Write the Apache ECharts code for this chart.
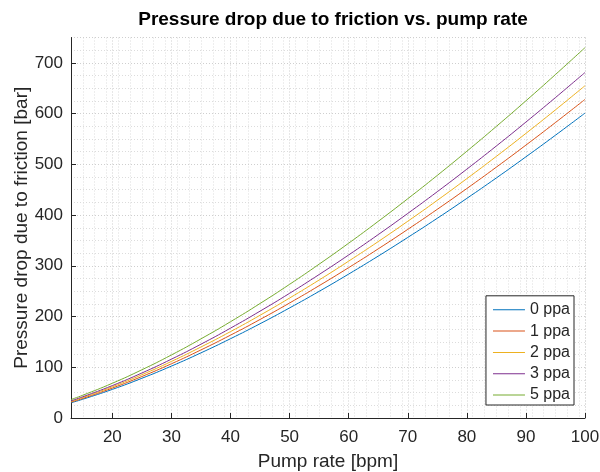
<!DOCTYPE html>
<html>
<head>
<meta charset="utf-8">
<script src="https://cdn.jsdelivr.net/npm/echarts@6/dist/echarts.min.js"></script>
<style>
  html, body { margin: 0; padding: 0; background: #fff; }
  #chart { width: 600px; height: 472px; }
</style>
</head>
<body>
<div id="chart"></div>
<script>
// Pump rate [bpm]
const pumpRate = [13, 15, 20, 25, 30, 35, 40, 45, 50, 55, 60, 65, 70, 75, 80, 85, 90, 95, 100];

// Pressure drop due to friction [bar], one array per proppant concentration
const ppa0 = [30, 37, 56.4, 78.3, 102.3, 128.4, 156.3, 185.8, 217, 249.6, 283.7, 319.1, 355.9, 393.7, 432.9, 473.2, 514.8, 557.4, 601];
const ppa1 = [31.3, 38.6, 59, 81.8, 106.9, 134.2, 163.3, 194.2, 226.7, 260.8, 296.4, 333.4, 371.8, 411.4, 452.3, 494.5, 537.9, 582.4, 628];
const ppa2 = [32.6, 40.3, 61.5, 85.3, 111.5, 140, 170.3, 202.5, 236.5, 272, 309.2, 347.7, 387.8, 429.1, 471.8, 515.7, 561, 607.4, 655];
const ppa3 = [33.9, 41.9, 63.9, 88.7, 116, 145.5, 177.1, 210.6, 245.8, 282.8, 321.4, 361.5, 403.2, 446.1, 490.5, 536.2, 583.3, 631.6, 681];
const ppa5 = [36.4, 44.9, 68.5, 95.1, 124.3, 156, 189.8, 225.7, 263.5, 303.2, 344.6, 387.6, 432.2, 478.2, 525.8, 574.8, 625.2, 677, 730];

const seriesNames = ['0 ppa', '1 ppa', '2 ppa', '3 ppa', '5 ppa'];
const seriesValues = [ppa0, ppa1, ppa2, ppa3, ppa5];
const seriesColors = ['#0072BD', '#D95319', '#EDB120', '#7E2F8E', '#77AC30'];

const textColor = '#262626';
const font = '"Liberation Sans", Arial, Helvetica, sans-serif';

const chart = echarts.init(document.getElementById('chart'), null, { renderer: 'canvas' });

const series = seriesNames.map((name, i) => ({
  name: name,
  type: 'line',
  xAxisIndex: 0,
  yAxisIndex: 0,
  data: pumpRate.map((x, k) => [x, seriesValues[i][k]]),
  symbol: 'none',
  smooth: true,
  lineStyle: { width: 1, color: seriesColors[i] },
  itemStyle: { color: seriesColors[i] },
  z: 5
}));

chart.setOption({
  animation: false,
  backgroundColor: '#ffffff',
  textStyle: { fontFamily: font },
  title: {
    text: 'Pressure drop due to friction vs. pump rate',
    left: 328,
    textAlign: 'center',
    top: 5,
    textStyle: { fontFamily: font, fontSize: 19, fontWeight: 'bold', color: '#000' }
  },
  grid: { left: 71, right: 15, top: 37.5, bottom: 54, containLabel: false, outerBoundsMode: 'none' },
  legend: {
    orient: 'vertical',
    right: 26,
    bottom: 67,
    data: seriesNames,
    icon: 'rect',
    itemWidth: 32,
    itemHeight: 1,
    itemGap: 5.3,
    padding: [6, 4, 2, 7],
    backgroundColor: '#ffffff',
    borderColor: '#262626',
    borderWidth: 1,
    borderRadius: 0,
    textStyle: { fontFamily: font, fontSize: 16, color: textColor, lineHeight: 16 }
  },
  xAxis: [
    {
      type: 'value',
      min: 13,
      max: 100,
      splitNumber: 9,
      name: 'Pump rate [bpm]',
      nameLocation: 'middle',
      nameGap: 34,
      nameMoveOverlap: false,
      nameTextStyle: { fontFamily: font, fontSize: 19, color: textColor },
      axisLine: { show: true, onZero: false, lineStyle: { color: textColor, width: 1 } },
      axisTick: { show: true, inside: true, length: 5, lineStyle: { color: textColor } },
      axisLabel: {
        fontFamily: font, fontSize: 17, color: textColor, margin: 11,
        showMinLabel: false,
        formatter: v => (v % 10 === 0 ? String(v) : '')
      },
      splitLine: { show: true, lineStyle: { color: '#cfcfcf', type: [1, 2], width: 1 } },
      minorTick: { show: false },
      z: 3
    },
    {
      type: 'value',
      min: 13,
      max: 100,
      interval: 2,
      show: true,
      axisLine: { show: false },
      axisTick: { show: false },
      axisLabel: { show: false },
      splitLine: { show: true, lineStyle: { color: '#dcdcdc', type: [1, 2], width: 1 } },
      z: 1
    }
  ],
  yAxis: [
    {
      type: 'value',
      min: 0,
      max: 750,
      interval: 100,
      name: 'Pressure drop due to friction [bar]',
      nameLocation: 'middle',
      nameGap: 40,
      nameMoveOverlap: false,
      nameTextStyle: { fontFamily: font, fontSize: 19, color: textColor },
      axisLine: { show: true, lineStyle: { color: textColor, width: 1 } },
      axisTick: { show: true, inside: true, length: 5, lineStyle: { color: textColor } },
      axisLabel: {
        fontFamily: font, fontSize: 17, color: textColor, margin: 8,
        showMaxLabel: false,
        formatter: v => (v % 100 === 0 ? String(v) : '')
      },
      splitLine: { show: true, lineStyle: { color: '#cfcfcf', type: [1, 2], width: 1 } },
      minorTick: { show: false, splitNumber: 4 },
      minorSplitLine: { show: true, lineStyle: { color: '#dcdcdc', type: [1, 2], width: 1 } },
      z: 3
    }
  ],
  series: series
});
</script>
</body>
</html>
